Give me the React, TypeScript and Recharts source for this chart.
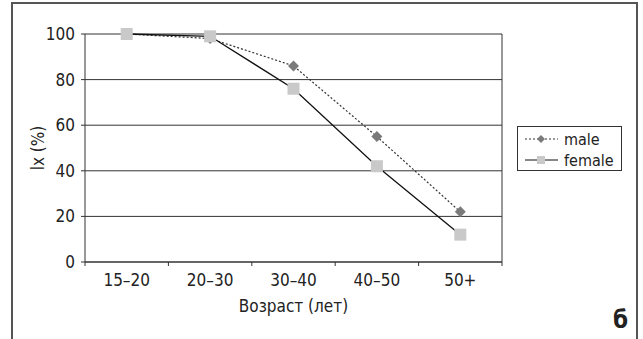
import React from 'react';
import { LineChart, Line, XAxis, YAxis, CartesianGrid, Label } from 'recharts';

const ageGroups = ['15–20', '20–30', '30–40', '40–50', '50+'];
const maleValues = [100, 98, 86, 55, 22];
const femaleValues = [100, 99, 76, 42, 12];
const yTicks = [0, 20, 40, 60, 80, 100];

const FONT = "'Liberation Sans Narrow', 'DejaVu Sans Condensed', 'Arial Narrow', sans-serif";
const W = 643;
const H = 339;
const MARGIN = { top: 34, right: 140, bottom: 47, left: 0 };
const Y_WIDTH = 85;
const X_HEIGHT = 30;
const BAND = (W - MARGIN.left - Y_WIDTH - MARGIN.right - 1) / ageGroups.length;

const data = ageGroups.map((age, i) => ({ age, male: maleValues[i], female: femaleValues[i] }));

const Diamond = ({ cx, cy, r = 5.5, fill = '#7a7a7a' }: any) => (
  <path d={`M${cx},${cy - r}L${cx + r},${cy}L${cx},${cy + r}L${cx - r},${cy}Z`} fill={fill} />
);
const Square = ({ cx, cy, s = 12, fill = '#c9c9c9' }: any) => (
  <rect x={cx - s / 2} y={cy - s / 2} width={s} height={s} fill={fill} />
);

const XTick = ({ x, y, payload, index }: any) => (
  <g>
    {index === 0 && <line x1={x - BAND / 2} x2={x - BAND / 2} y1={y - 8} y2={y - 4} stroke="#333" />}
    <line x1={x + BAND / 2} x2={x + BAND / 2} y1={y - 8} y2={y - 4} stroke="#333" />
    <text x={x} y={y + 16} textAnchor="middle" fill="#222" fontSize={17} fontFamily={FONT}>
      {payload.value}
    </text>
  </g>
);

const LegendBox = () => (
  <div
    style={{
      position: 'absolute',
      left: 517,
      top: 126,
      border: '1.5px solid #333',
      width: 105,
      height: 45,
      boxSizing: 'border-box',
      background: '#fff',
    }}
  >
    <svg width={102} height={42} style={{ display: 'block' }}>
      <line x1={7} x2={40} y1={12} y2={12} stroke="#333" strokeDasharray="2 2" />
      <Diamond cx={23} cy={12} r={4} />
      <text x={46} y={18} fontSize={16} fontFamily={FONT} fill="#222">male</text>
      <line x1={7} x2={40} y1={33} y2={33} stroke="#111" />
      <Square cx={23} cy={33} s={8} />
      <text x={46} y={39} fontSize={16} fontFamily={FONT} fill="#222">female</text>
    </svg>
  </div>
);

export default function App() {
  return (
    <div style={{ position: 'absolute', left: 0, top: 0, width: W, height: H, background: '#fff', overflow: 'hidden' }}>
      <div
        style={{
          position: 'absolute',
          left: 11,
          top: 2,
          width: 627,
          height: 360,
          border: '2px solid #555',
          boxSizing: 'border-box',
        }}
      />
      <LineChart width={W} height={H} data={data} margin={MARGIN}>
        <CartesianGrid vertical={false} stroke="#333" strokeWidth={1} />
        <XAxis
          dataKey="age"
          scale="band"
          height={X_HEIGHT}
          stroke="#333"
          tickLine={false}
          tick={<XTick />}
          interval={0}
        >
          <Label value="Возраст (лет)" position="insideBottom" offset={-20} fill="#222" fontSize={17} fontFamily={FONT} />
        </XAxis>
        <YAxis
          domain={[0, 100]}
          ticks={yTicks}
          width={Y_WIDTH}
          stroke="#333"
          tickSize={4}
          tickMargin={6}
          tick={{ fill: '#222', fontSize: 17, fontFamily: FONT }}
        >
          <Label value="lx (%)" angle={-90} position="insideLeft" offset={38} fill="#222" fontSize={17} fontFamily={FONT} style={{ textAnchor: 'middle' }} />
        </YAxis>
        <YAxis yAxisId="r" orientation="right" domain={[0, 100]} width={1} tick={false} tickLine={false} stroke="#333" />
        <Line
          dataKey="male"
          stroke="#333"
          strokeWidth={1.2}
          strokeDasharray="2 2"
          isAnimationActive={false}
          dot={(p: any) => <Diamond key={`m${p.index}`} cx={p.cx} cy={p.cy} />}
        />
        <Line
          dataKey="female"
          stroke="#111"
          strokeWidth={1.3}
          isAnimationActive={false}
          dot={(p: any) => <Square key={`f${p.index}`} cx={p.cx} cy={p.cy} />}
        />
      </LineChart>
      <LegendBox />
      <div
        style={{
          position: 'absolute',
          left: 613,
          top: 306,
          fontFamily: FONT,
          fontWeight: 'bold',
          fontSize: 24,
          color: '#222',
        }}
      >
        б
      </div>
    </div>
  );
}
